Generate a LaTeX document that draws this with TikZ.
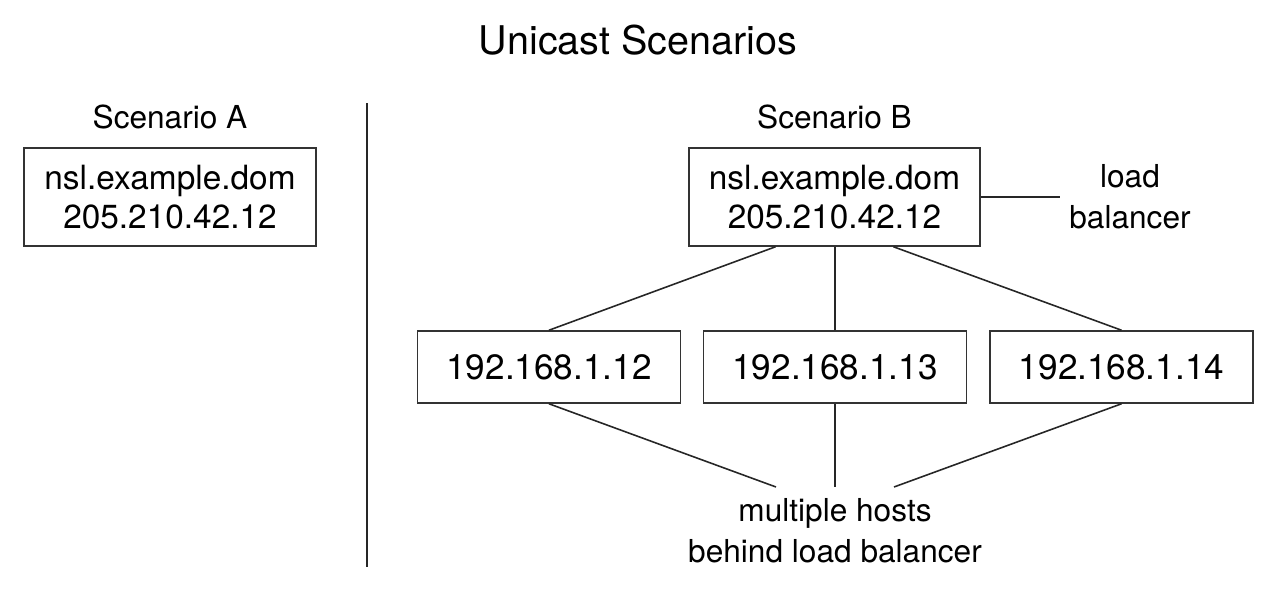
\documentclass[tikz,border=0pt]{standalone}
\usepackage{fontspec}
\setmainfont{TeX Gyre Heros}
\usetikzlibrary{positioning,calc}

\tikzset{
  box/.style={draw=black!80, line width=0.9pt, align=center, inner sep=0pt,
    font=\fontsize{19}{22.5}\selectfont},
  hostbox/.style={box, minimum width=5.26cm, minimum height=1.44cm,
    font=\fontsize{20}{22}\selectfont},
  lbl/.style={align=center, font=\fontsize{18}{19.5}\selectfont},
  wire/.style={draw=black!85, line width=0.9pt}
}

\begin{document}
\begin{tikzpicture}[x=0.02cm, y=-0.02cm]
  \useasboundingbox (0,0) rectangle (1276,592);

  \node[font=\fontsize{22.5}{24}\selectfont] (title) at (638,40) {Unicast Scenarios};

  % divider
  \coordinate (divtop) at (367,103);
  \coordinate (divbot) at (367,567);
  \draw[wire] (divtop) -- (divbot);

  % scenario A
  \node[lbl] (scenA) at (170,117) {Scenario A};
  \node[box, minimum width=5.84cm, minimum height=1.96cm] (boxA) at (170,197)
    {nsl.example.dom\\205.210.42.12};

  % scenario B
  \node[lbl] (scenB) at (834.5,117) {Scenario B};
  \node[box, minimum width=5.82cm, minimum height=1.96cm] (boxB) at (834.5,197)
    {nsl.example.dom\\205.210.42.12};
  \node[lbl] (lb) at (1130,197) {load\\[4pt]balancer};
  \coordinate (lbend) at (1060,197);
  \draw[wire] (boxB.east) -- (lbend);

  \node[hostbox] (h1) at (549,367) {192.168.1.12};
  \node[hostbox] (h2) at (835,367) {192.168.1.13};
  \node[hostbox] (h3) at (1121.5,367) {192.168.1.14};

  \draw[wire] ($(boxB.south)+(-59,0)$) -- (h1.north);
  \draw[wire] ($(boxB.south)+(0.5,0)$) -- (h2.north);
  \draw[wire] ($(boxB.south)+(59,0)$) -- (h3.north);

  \node[lbl] (multi) at (835,531) {multiple hosts\\[4pt]behind load balancer};
  \coordinate (m1) at (776,487);
  \coordinate (m2) at (835,487);
  \coordinate (m3) at (894,487);
  \draw[wire] (h1.south) -- (m1);
  \draw[wire] (h2.south) -- (m2);
  \draw[wire] (h3.south) -- (m3);
\end{tikzpicture}
\end{document}
